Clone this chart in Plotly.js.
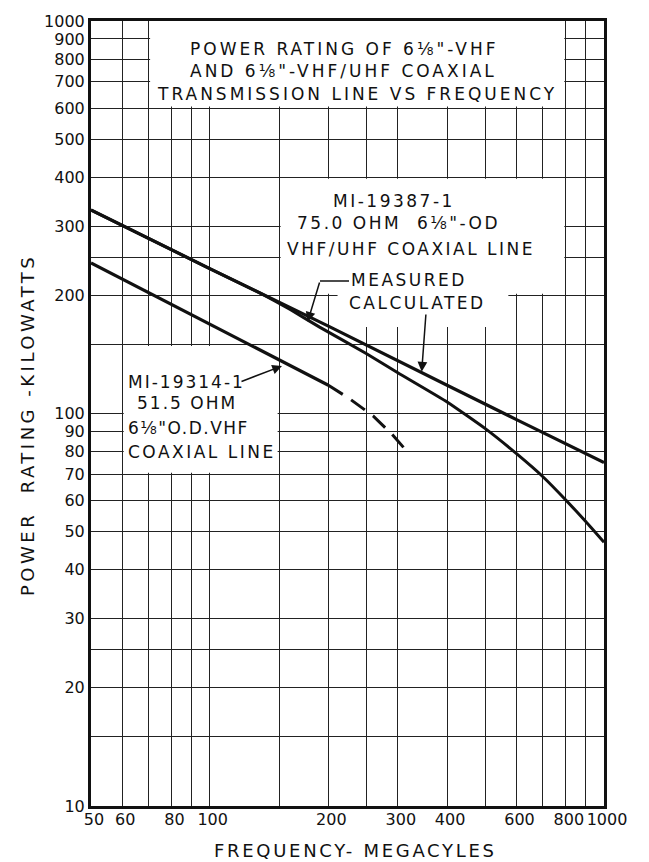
<!DOCTYPE html>
<html><head><meta charset="utf-8">
<script src="https://cdn.plot.ly/plotly-3.0.1.min.js"></script>
<style>html,body{margin:0;padding:0;background:#fff}</style>
</head><body><div id="chart" style="width:649px;height:862px"></div>
<script>
// ---- data ----
const xGridVals = [50,60,70,80,90,100,150,200,250,300,400,500,600,700,800,900,1000];
const xTickText = ['50','60','','80','','100','','200','','300','400','','600','','800','','1000'];
const yGridVals = [10,15,20,25,30,40,50,60,70,80,90,100,150,200,250,300,400,500,600,700,800,900,1000];
const yTickText = ['10','','20','','30','40','50','60','70','80','90','100','','200','','300','400','500','600','700','800','900','1000'];

// MI-19387-1 75.0 ohm, calculated
const calcFreq = [50, 100, 200, 300, 400, 600, 1000];
const calcPower = [330, 234, 167, 136, 118, 96.5, 75];
// MI-19387-1 75.0 ohm, measured
const measFreq = [50, 100, 135, 160, 190, 250, 300, 400, 500, 600, 700, 800, 900, 1000];
const measPower = [330, 234, 202, 184, 166, 142, 127, 107, 91.5, 79, 69, 60.2, 53, 47];
// MI-19314-1 51.5 ohm, solid part
const lowFreq = [50, 100, 150, 200];
const lowPower = [242, 169, 137, 118];
// MI-19314-1 51.5 ohm, dashed extrapolation
const lowDashFreq = [200, 225, 260, 290, 322];
const lowDashPower = [118, 109.5, 98.5, 88.5, 78.5];

// ---- layout helpers ----
const ML = 91, MT = 21, PW = 513, PH = 785;
const PPDX = PW / (3 - Math.log10(50)), PPDY = PH / 2;
const fx = (f, d) => f * Math.pow(10, d / PPDX);   // shift a frequency by d pixels
const fy = (p, d) => p * Math.pow(10, d / PPDY);   // shift a power by d pixels
const qx = x => (x - ML) / PW;                     // pixel -> paper
const qy = y => (MT + PH - y) / PH;
const sp = (t, ls) => '<span style="letter-spacing:' + ls + 'px">' + t + '</span>';

const LINE = '#111';
const traces = [
  {x: calcFreq, y: calcPower, mode: 'lines', line: {color: LINE, width: 3.2}, hoverinfo: 'skip'},
  {x: measFreq, y: measPower, mode: 'lines', line: {color: LINE, width: 3, shape: 'spline', smoothing: 0.4}, hoverinfo: 'skip'},
  {x: lowFreq, y: lowPower, mode: 'lines', line: {color: LINE, width: 3.2}, hoverinfo: 'skip'},
  {x: lowDashFreq, y: lowDashPower, mode: 'lines', line: {color: LINE, width: 3, dash: '17px,10px'}, hoverinfo: 'skip'}
];

function whiteBox(f0, f1, p0, p1) {
  return {type: 'rect', xref: 'x', yref: 'y', x0: f0, x1: f1, y0: p0, y1: p1,
          fillcolor: '#ffffff', line: {width: 0}, layer: 'between'};
}
const shapes = [
  whiteBox(fx(70, 1.5), fx(800, -1.5), fy(600, 1.5), 1000),
  whiteBox(fx(150, 1.5), fx(800, -1.5), fy(200, 1.5), fy(400, -1.5)),
  whiteBox(211, 572, 166, 210),
  whiteBox(fx(60, 1.5), fx(150, -1.5), fy(70, 1.5), fy(150, -1.5)),
  {type: 'line', xref: 'paper', yref: 'paper', x0: qx(320), x1: qx(349), y0: qy(281), y1: qy(281),
   line: {color: LINE, width: 1.5}}
];

function label(t, xp, yp, size, ls) {
  return {text: sp(t, ls), xref: 'paper', yref: 'paper', x: qx(xp), y: qy(yp),
          xanchor: 'left', yanchor: 'middle', showarrow: false,
          font: {family: 'DejaVu Sans', size: size, color: LINE}};
}
function arrow(tipX, tipY, tailX, tailY) {
  return {text: '', xref: 'paper', yref: 'paper', x: qx(tipX), y: qy(tipY),
          ax: tailX - tipX, ay: tailY - tipY, showarrow: true,
          arrowhead: 2, arrowsize: 1.3, arrowwidth: 1.5, arrowcolor: LINE, standoff: 0};
}
const annotations = [
  label('POWER RATING OF 6⅛"-VHF', 188, 49, 17, 3),
  label('AND 6⅛"-VHF/UHF COAXIAL', 188, 71, 17, 3),
  label('TRANSMISSION LINE VS FREQUENCY', 155, 94, 17, 3),
  label('MI-19387-1', 331, 201, 17, 2.5),
  label('75.0 OHM\u00a0 6⅛"-OD', 295, 223, 17, 2.5),
  label('VHF/UHF COAXIAL LINE', 285, 249, 17, 2.5),
  label('MEASURED', 349, 280, 17, 2.5),
  label('CALCULATED', 347, 303, 17, 2.5),
  label('MI-19314-1', 126, 382, 17, 2),
  label('51.5 OHM', 135, 403, 17, 2),
  label('6⅛"O.D.VHF', 126, 428, 17, 1.5),
  label('COAXIAL LINE', 126, 452, 17, 2.5),
  arrow(307.7, 321.7, 320, 281),
  arrow(421.7, 371.7, 426, 313),
  arrow(282, 366, 240, 382),
  {text: sp('POWER\u00a0 RATING -KILOWATTS', 3.5), xref: 'paper', yref: 'paper', x: qx(27), y: qy(425),
   textangle: -90, showarrow: false, xanchor: 'center', yanchor: 'middle',
   font: {family: 'DejaVu Sans', size: 18, color: LINE}},
  {text: sp('FREQUENCY- MEGACYLES', 2.7), xref: 'paper', yref: 'paper', x: qx(355), y: qy(850),
   showarrow: false, xanchor: 'center', yanchor: 'middle',
   font: {family: 'DejaVu Sans', size: 18, color: LINE}}
];

const axisCommon = {
  type: 'log', showgrid: true, gridcolor: '#222', gridwidth: 1, zeroline: false,
  showline: true, linecolor: LINE, linewidth: 3, mirror: true, ticks: '',
  tickmode: 'array', tickfont: {family: 'DejaVu Sans', size: 16, color: LINE}, fixedrange: true,
  tickangle: 0
};
const layout = {
  width: 649, height: 862,
  margin: {l: ML, r: 649 - ML - PW, t: MT, b: 862 - MT - PH},
  paper_bgcolor: '#fff', plot_bgcolor: '#fff', showlegend: false,
  font: {family: 'DejaVu Sans', color: LINE},
  xaxis: Object.assign({}, axisCommon, {range: [Math.log10(50), 3], tickvals: xGridVals, ticktext: xTickText,
                                        ticklabelshift: 3, ticklabelstandoff: -3}),
  yaxis: Object.assign({}, axisCommon, {range: [1, 3], tickvals: yGridVals, ticktext: yTickText}),
  shapes: shapes, annotations: annotations
};
Plotly.newPlot('chart', traces, layout, {staticPlot: true, displayModeBar: false});
</script></body></html>
